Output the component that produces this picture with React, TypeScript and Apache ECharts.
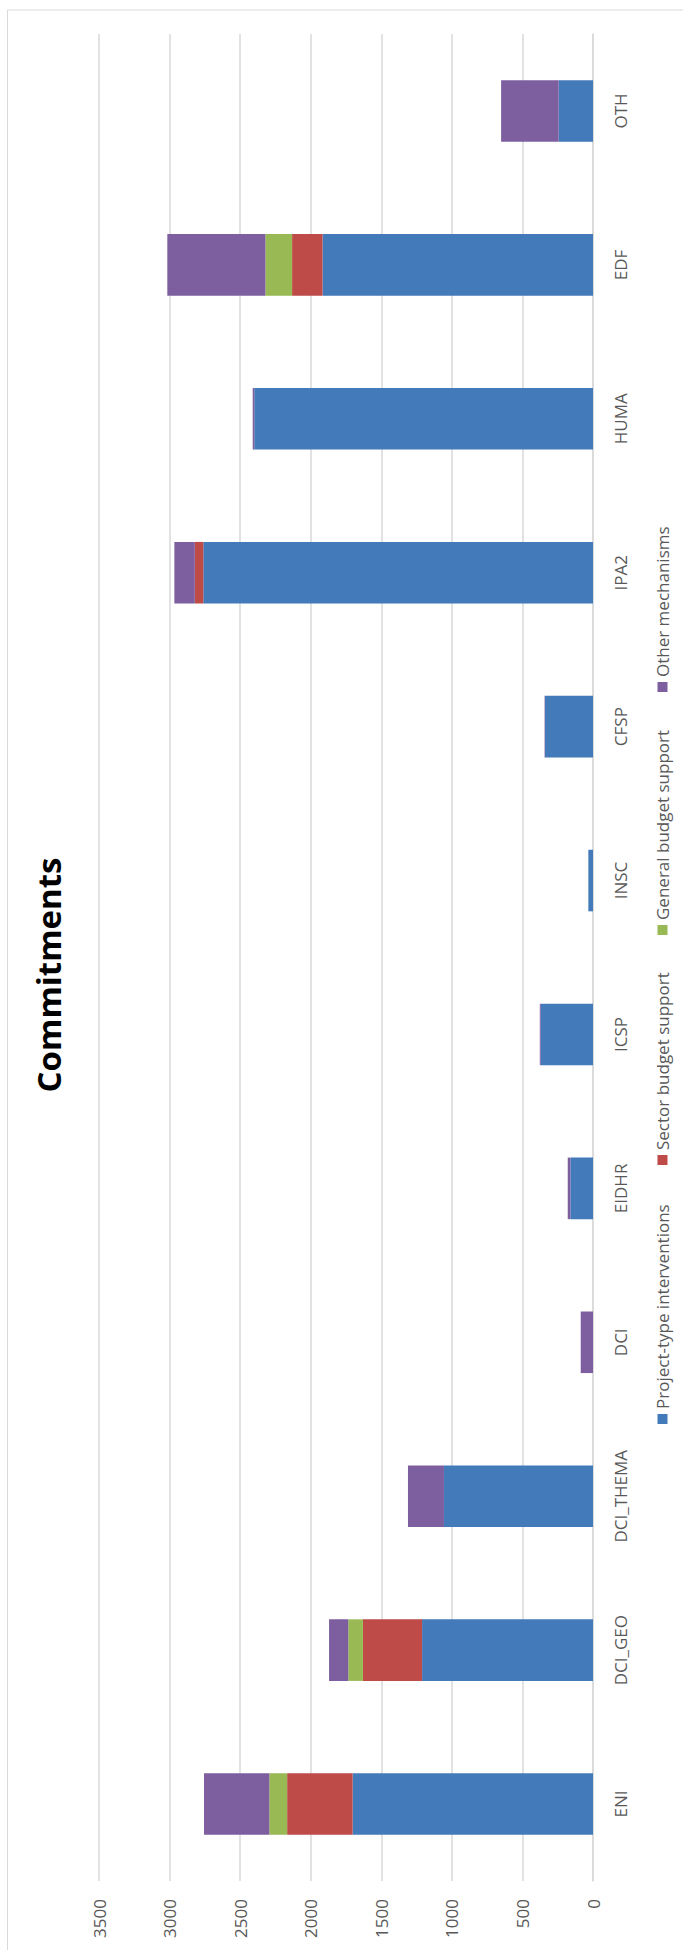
import React, { useEffect, useRef } from "react";
import * as echarts from "echarts";

const categories = ["ENI", "DCI_GEO", "DCI_THEMA", "DCI", "EIDHR", "ICSP", "INSC", "CFSP", "IPA2", "HUMA", "EDF", "OTH"];
const projectType = [1703, 1211, 1056, 0, 160, 370, 33, 340, 2761, 2400, 1916, 243];
const sectorBudget = [464, 419, 0, 0, 0, 0, 0, 0, 60, 0, 216, 0];
const generalBudget = [126, 104, 0, 0, 0, 0, 0, 0, 0, 0, 189, 0];
const otherMechanisms = [463, 136, 255, 87, 19, 7, 0, 3, 145, 11, 695, 408];

const seriesNames = ["Project-type interventions", "Sector budget support", "General budget support", "Other mechanisms"];
const seriesColors = ["#437ab9", "#be4b48", "#98b954", "#7d5fa0"];
const seriesValues = [projectType, sectorBudget, generalBudget, otherMechanisms];

const valueMin = 0;
const valueMax = 3500;
const valueStep = 500;

// layout (unrotated frame: 1950 wide x 683 tall)
const W = 1950;
const H = 683;
const legendLefts = [526, 785, 1015, 1258];

export default function App() {
  const ref = useRef<HTMLDivElement>(null);

  useEffect(() => {
    if (!ref.current) return;
    const chart = echarts.init(ref.current, undefined, { renderer: "svg" });
    const font = "Open Sans";
    chart.setOption({
      animation: false,
      backgroundColor: "#ffffff",
      title: {
        text: "Commitments",
        left: "center",
        top: 32,
        padding: 0,
        textStyle: { fontSize: 33, fontWeight: "bold", fontFamily: font, color: "#000000" },
      },
      legend: seriesNames.map((name, i) => ({
        data: [name],
        left: legendLefts[i],
        top: 654,
        padding: 0,
        itemWidth: 10,
        itemHeight: 10,
        itemGap: 0,
        icon: "rect",
        textStyle: { fontSize: 17, fontFamily: font, color: "#595959", padding: [0, 0, 0, 0] },
      })),
      grid: { left: 69, right: 34, top: 99, bottom: 90, containLabel: false },
      xAxis: {
        type: "category",
        data: categories,
        axisLine: { show: true, lineStyle: { color: "#d9d9d9", width: 1.5 } },
        axisTick: { show: false },
        axisLabel: { color: "#595959", fontSize: 17, fontFamily: font, margin: 19, interval: 0 },
      },
      yAxis: {
        type: "value",
        min: valueMin,
        max: valueMax,
        interval: valueStep,
        axisLine: { show: false },
        axisTick: { show: false },
        splitLine: { show: true, lineStyle: { color: "#d9d9d9", width: 1.5 } },
        axisLabel: {
          color: "#595959",
          fontSize: 17,
          fontFamily: font,
          margin: 18,
          formatter: (v: number) => String(v),
        },
      },
      series: seriesNames.map((name, i) => ({
        name,
        type: "bar",
        stack: "total",
        data: seriesValues[i],
        barCategoryGap: "60%",
        itemStyle: { color: seriesColors[i] },
      })),
      graphic: [
        {
          type: "rect",
          shape: { x: -10, y: 7.5, width: 1950, height: 700 },
          style: { fill: "none", stroke: "#d9d9d9", lineWidth: 1 },
          silent: true,
          z: -1,
        },
      ],
    });
    return () => chart.dispose();
  }, []);

  return (
    <div style={{ position: "absolute", left: 0, top: 0, width: H, height: W, overflow: "hidden", background: "#fff" }}>
      <div
        ref={ref}
        style={{
          position: "absolute",
          left: 0,
          top: 0,
          width: W,
          height: H,
          transformOrigin: "0 0",
          transform: `translateY(${W}px) rotate(-90deg)`,
        }}
      />
    </div>
  );
}
